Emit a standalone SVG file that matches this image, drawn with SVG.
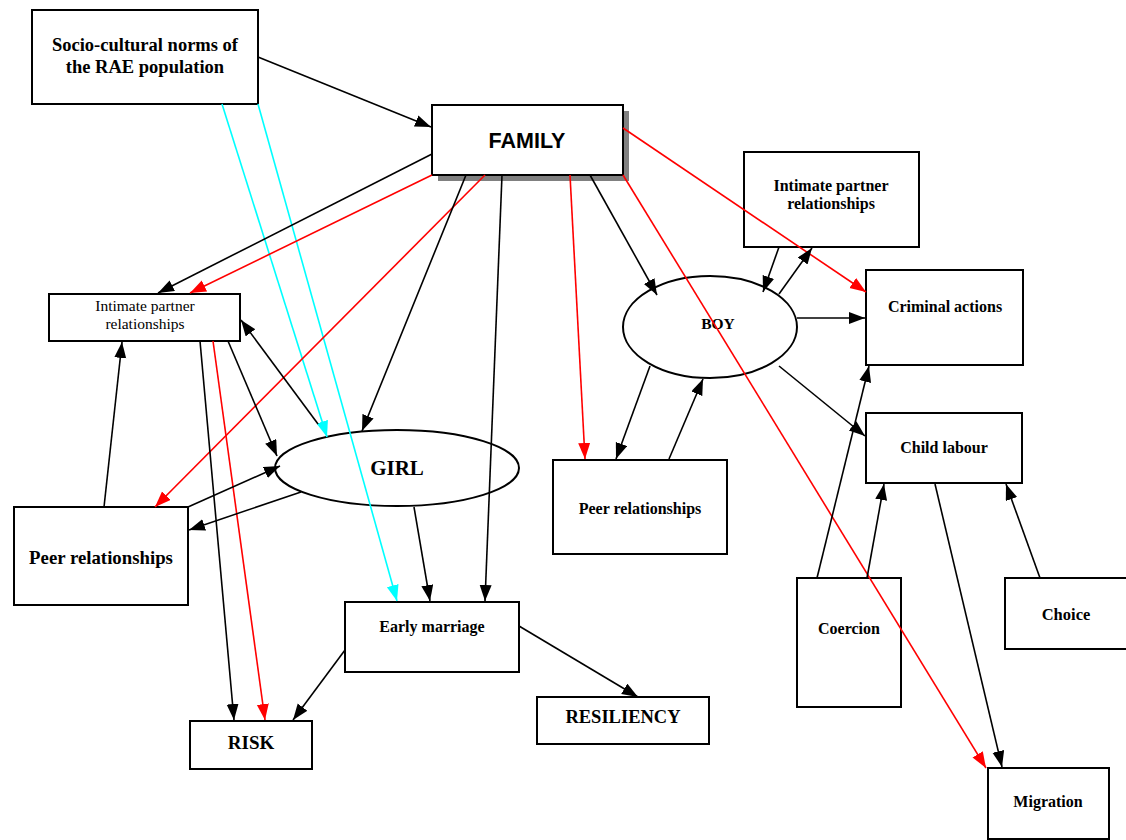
<svg xmlns="http://www.w3.org/2000/svg" width="1126" height="840" viewBox="0 0 1126 840">
<style>
.box{fill:#fff;stroke:#000;stroke-width:2}
.ell{fill:#fff;stroke:#000;stroke-width:2}
.t{font-family:"Liberation Serif",serif;font-weight:bold;text-anchor:middle;fill:#000}
.tn{font-family:"Liberation Serif",serif;text-anchor:middle;fill:#000}
.ts{font-family:"Liberation Sans",sans-serif;font-weight:bold;text-anchor:middle;fill:#000}
.k{stroke:#000;stroke-width:1.6;fill:none;marker-end:url(#ak)}
.r{stroke:#f00;stroke-width:1.6;fill:none;marker-end:url(#ar)}
.c{stroke:#0ff;stroke-width:1.6;fill:none;marker-end:url(#ac)}
</style>
<defs>
<marker id="ak" markerUnits="userSpaceOnUse" markerWidth="17" markerHeight="13" refX="16" refY="6" orient="auto"><path d="M0,0 L16,6 L0,12 z" fill="#000"/></marker>
<marker id="ar" markerUnits="userSpaceOnUse" markerWidth="17" markerHeight="13" refX="16" refY="6" orient="auto"><path d="M0,0 L16,6 L0,12 z" fill="#f00"/></marker>
<marker id="ac" markerUnits="userSpaceOnUse" markerWidth="17" markerHeight="13" refX="16" refY="6" orient="auto"><path d="M0,0 L16,6 L0,12 z" fill="#0ff"/></marker>
</defs>
<rect width="1126" height="840" fill="#fff"/>

<g id="n-socio"><rect class="box" x="32" y="10" width="226" height="94"/>
<text class="t" font-size="18.5" x="145" y="51">Socio-cultural norms of</text>
<text class="t" font-size="18.5" x="145" y="73">the RAE population</text></g>

<g id="n-family"><rect x="438" y="111" width="191" height="70" fill="#808080"/>
<rect class="box" x="432" y="105" width="191" height="70"/>
<text class="ts" font-size="21.5" x="527" y="148">FAMILY</text></g>

<g id="n-ipr-left"><rect class="box" x="49" y="294" width="191" height="47"/>
<text class="tn" font-size="15.5" x="145" y="311">Intimate partner</text>
<text class="tn" font-size="15.5" x="145" y="329">relationships</text></g>

<g id="n-peer-left"><rect class="box" x="14" y="507" width="174" height="98"/>
<text class="t" font-size="18.8" x="101" y="564">Peer relationships</text></g>

<g id="n-girl"><ellipse class="ell" cx="397" cy="468" rx="122" ry="38"/>
<text class="t" font-size="21" x="397" y="475">GIRL</text></g>

<g id="n-early"><rect class="box" x="345" y="602" width="174" height="70"/>
<text class="t" font-size="16" x="432" y="632">Early marriage</text></g>

<g id="n-risk"><rect class="box" x="190" y="721" width="122" height="48"/>
<text class="t" font-size="19" x="251" y="749">RISK</text></g>

<g id="n-resiliency"><rect class="box" x="537" y="697" width="172" height="47"/>
<text class="t" font-size="18.5" x="623" y="723">RESILIENCY</text></g>

<g id="n-peer-mid"><rect class="box" x="553" y="460" width="174" height="94"/>
<text class="t" font-size="16" x="640" y="514">Peer relationships</text></g>

<g id="n-boy"><ellipse class="ell" cx="710" cy="327" rx="87" ry="51"/>
<text class="t" font-size="15.5" x="718" y="329">BOY</text></g>

<g id="n-ipr-right"><rect class="box" x="744" y="152" width="175" height="95"/>
<text class="t" font-size="16" x="831" y="191">Intimate partner</text>
<text class="t" font-size="16" x="831" y="209">relationships</text></g>

<g id="n-criminal"><rect class="box" x="866" y="270" width="157" height="95"/>
<text class="t" font-size="16" x="945" y="312">Criminal actions</text></g>

<g id="n-child"><rect class="box" x="866" y="413" width="156" height="70"/>
<text class="t" font-size="16" x="944" y="453">Child labour</text></g>

<g id="n-coercion"><rect class="box" x="797" y="578" width="104" height="129"/>
<text class="t" font-size="16" x="849" y="634">Coercion</text></g>

<g id="n-choice"><rect class="box" x="1005" y="578" width="124" height="71"/>
<text class="t" font-size="16.5" x="1066" y="620">Choice</text></g>

<g id="n-migration"><rect class="box" x="988" y="768" width="121" height="71"/>
<text class="t" font-size="16" x="1048" y="807">Migration</text></g>

<g id="connectors">
<line class="k" x1="258" y1="57" x2="431" y2="127"/>
<line class="c" x1="222" y1="104" x2="327" y2="437"/>
<line class="c" x1="258" y1="104" x2="397" y2="601"/>
<line class="k" x1="432" y1="154" x2="158" y2="293"/>
<line class="r" x1="432" y1="175" x2="190" y2="293"/>
<line class="r" x1="485" y1="175" x2="155" y2="507"/>
<line class="k" x1="466" y1="175" x2="362" y2="431"/>
<line class="k" x1="502" y1="175" x2="485" y2="601"/>
<line class="r" x1="570" y1="175" x2="585" y2="459"/>
<line class="k" x1="590" y1="175" x2="657" y2="295"/>
<line class="r" x1="623" y1="128" x2="866" y2="292"/>
<line class="r" x1="623" y1="175" x2="986" y2="768"/>
<line class="k" x1="200" y1="341" x2="234" y2="720"/>
<line class="r" x1="213" y1="341" x2="265" y2="720"/>
<line class="k" x1="228" y1="341" x2="277" y2="456"/>
<line class="k" x1="318" y1="424" x2="241" y2="320"/>
<line class="k" x1="104" y1="507" x2="122" y2="342"/>
<line class="k" x1="188" y1="507" x2="280" y2="466"/>
<line class="k" x1="301" y1="492" x2="189" y2="530"/>
<line class="k" x1="414" y1="507" x2="430" y2="601"/>
<line class="k" x1="345" y1="650" x2="293" y2="720"/>
<line class="k" x1="519" y1="626" x2="638" y2="697"/>
<line class="k" x1="650" y1="366" x2="616" y2="459"/>
<line class="k" x1="669" y1="459" x2="703" y2="379"/>
<line class="k" x1="779" y1="247" x2="763" y2="292"/>
<line class="k" x1="779" y1="294" x2="812" y2="248"/>
<line class="k" x1="797" y1="318" x2="865" y2="318"/>
<line class="k" x1="779" y1="366" x2="865" y2="436"/>
<line class="k" x1="817" y1="578" x2="869" y2="366"/>
<line class="k" x1="867" y1="578" x2="884" y2="484"/>
<line class="k" x1="1040" y1="578" x2="1006" y2="484"/>
<line class="k" x1="935" y1="484" x2="1002" y2="767"/>
</g>
</svg>
